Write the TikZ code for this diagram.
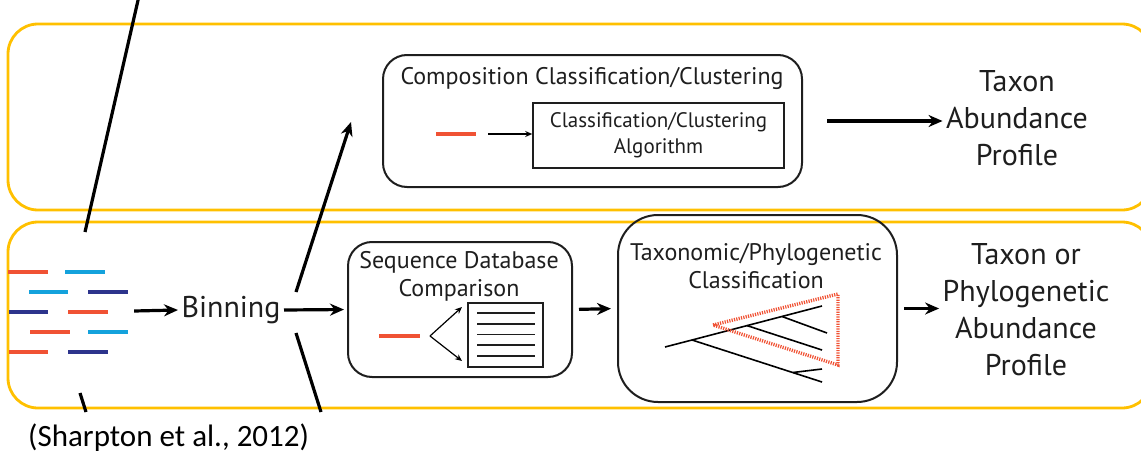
\documentclass[tikz,border=0pt]{standalone}
\usepackage{fontspec}
\setmainfont{PT Sans}
\newfontfamily\citefont{Carlito}
\usepackage{xcolor}
\usetikzlibrary{positioning}
\usetikzlibrary{arrows.meta}
\definecolor{gold}{RGB}{255,192,0}
\definecolor{readred}{RGB}{240,82,52}
\definecolor{readcyan}{RGB}{20,162,220}
\definecolor{readnavy}{RGB}{45,52,140}
\definecolor{ink}{RGB}{30,30,30}

\begin{document}
\begin{tikzpicture}[x=1pt, y=-1pt]
            \tikzset{panel/.style = {draw=gold, line width=2.8pt, rounded corners=30pt}}
            \tikzset{stagebox/.style = {draw=ink, line width=2pt, rounded corners=#1}}
            \tikzset{bigedge/.style = {-{Stealth[length=14pt,width=12pt]}, line width=3.2pt}}
            \tikzset{thinedge/.style = {-{Stealth[length=7pt,width=6pt]}, line width=1.2pt}}
            \tikzset{read/.style = {line width=3.6pt}}
            \tikzset{bigtext/.style = {text=ink, align=center, font=\fontsize{30}{37}\selectfont}}
            \tikzset{midtext/.style = {text=ink, align=center, font=\fontsize{24}{28}\selectfont}}
            \tikzset{smalltext/.style = {text=ink, align=center, font=\fontsize{21}{26}\selectfont}}

            \useasboundingbox (0,0) rectangle (1141,455);

            % yellow panels
            \draw[panel] (8,24) rectangle (1152,210);
            \draw[panel] (8,222) rectangle (1152,408);

            % cut-off lines of the source figure
            \draw[line width=3.2pt] (139,-4) -- (85,232);
            \draw[line width=3.2pt] (80,393) -- (86,412);

            % reads
            \foreach \xa/\xb/\yy/\col in {8/48/272/readred, 65/105/272/readcyan,
                29/68/292/readcyan, 88/128/292/readnavy, 9/48/312/readnavy, 68/108/312/readred,
                30/70/332/readred, 88/128/332/readcyan, 9/48/352/readred, 68/108/352/readnavy}
                \draw[read, \col] (\xa,\yy) -- (\xb,\yy);
            \node[minimum width=126pt, minimum height=90pt] (reads) at (71,311) {};

            \node[bigtext] (binning) at (231,310) {Binning};
            \draw[bigedge] (reads.east) -- (binning.west);

            % composition branch
            \coordinate (upfoot) at (296,292);
            \coordinate (uptip) at (351,122);
            \draw[bigedge] (upfoot) -- (uptip);
            \coordinate (downfoot) at (296,333);
            \coordinate (downend) at (321,412);
            \draw[line width=3.2pt] (downfoot) -- (downend);

            \node[stagebox=24pt, minimum width=419pt, minimum height=132pt] (comp) at (592.5,121) {};
            \node[midtext] (comptitle) at (592,78) {Composition Classification/Clustering};
            \node[smalltext, draw=ink, line width=1.6pt, minimum width=251pt, minimum height=65pt] (algo) at (658.5,135.5) {Classification/Clustering\\Algorithm};
            \coordinate (compreadA) at (436,134);
            \coordinate (compreadB) at (476,134);
            \draw[read, readred] (compreadA) -- (compreadB);
            \coordinate (compin) at (488,134);
            \draw[thinedge] (compin) -- (compin -| algo.west);

            \node[bigtext] (profileA) at (1017,118.5) {Taxon\\Abundance\\Profile};
            \draw[bigedge, shorten <=24pt] (comp.east) -- (comp.east -| profileA.west);

            % similarity branch
            \node[stagebox=24pt, minimum width=224pt, minimum height=135pt] (seqdb) at (460,309.5) {};
            \draw[bigedge, shorten >=3pt] (binning.east) -- (seqdb.west);
            \node[midtext] (seqtitle) at (459,276) {Sequence Database\\Comparison};
            \coordinate (seqreadA) at (379,336);
            \coordinate (seqreadB) at (420,336);
            \draw[read, readred] (seqreadA) -- (seqreadB);
            \coordinate (split) at (430,336);
            \draw[thinedge] (split) -- (462,307);
            \draw[thinedge] (split) -- (462,361);
            \node[draw=ink, line width=1.6pt, minimum width=75pt, minimum height=64pt] (dbdoc) at (505.5,335) {};
            \foreach \yy in {313,324,334.5,345,356}
                \draw[line width=1.5pt, ink] (477,\yy) -- (535,\yy);

            \node[stagebox=40pt, minimum width=279pt, minimum height=187pt] (taxo) at (757.5,308.5) {};
            \draw[bigedge, shorten <=6pt, shorten >=6pt] (seqdb.east) -- (taxo.west);
            \node[midtext] (taxotitle) at (756,266) {Taxonomic/Phylogenetic\\Classification};

            % tree
            \coordinate (root) at (665,347);
            \coordinate (split0) at (692,340);
            \coordinate (split1) at (747,325.6);
            \coordinate (split2) at (782,316.5);
            \coordinate (split3) at (793,372.5);
            \draw[line width=1.6pt] (root) -- (split0) -- (822,306);
            \draw[line width=1.6pt] (split0) -- (822,382);
            \draw[line width=1.6pt] (split1) -- (822,350);
            \draw[line width=1.6pt] (split2) -- (827,333);
            \draw[line width=1.6pt] (split3) -- (822,369);
            \draw[readred, line width=3.4pt, dash pattern=on 1.2pt off 1.2pt] (713,325) -- (838,294) -- (838,365) -- cycle;

            \node[bigtext] (profileB) at (1026,309.5) {Taxon or\\Phylogenetic\\Abundance\\Profile};
            \draw[bigedge, shorten <=6pt] (taxo.east) -- (taxo.east -| profileB.west);

            % citation
            \node[font=\citefont\fontsize{31}{36}\selectfont, anchor=west, inner sep=0pt] (cite) at (28,438) {(Sharpton et al., 2012)};
\end{tikzpicture}
\end{document}
